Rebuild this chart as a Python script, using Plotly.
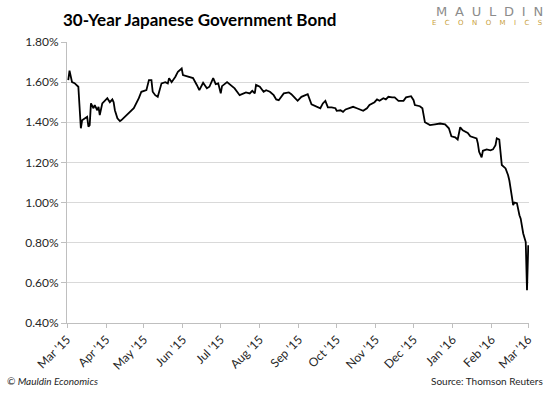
import plotly.graph_objects as go

dates = [
    "2015-03-02", "2015-03-03", "2015-03-05", "2015-03-07", "2015-03-10", "2015-03-12",
    "2015-03-13", "2015-03-15", "2015-03-17", "2015-03-18", "2015-03-19", "2015-03-20",
    "2015-03-22", "2015-03-23", "2015-03-25", "2015-03-26", "2015-03-27", "2015-03-29",
    "2015-03-31", "2015-04-02", "2015-04-04", "2015-04-06", "2015-04-07", "2015-04-08",
    "2015-04-10", "2015-04-12", "2015-04-13", "2015-04-16", "2015-04-19", "2015-04-23",
    "2015-04-27", "2015-04-29", "2015-05-03", "2015-05-05", "2015-05-07", "2015-05-08",
    "2015-05-10", "2015-05-12", "2015-05-15", "2015-05-18", "2015-05-20", "2015-05-21",
    "2015-05-23", "2015-05-26", "2015-05-28", "2015-05-31", "2015-06-01", "2015-06-04",
    "2015-06-07", "2015-06-09", "2015-06-12", "2015-06-14", "2015-06-17", "2015-06-20",
    "2015-06-22", "2015-06-25", "2015-06-27", "2015-06-29", "2015-07-01", "2015-07-02",
    "2015-07-06", "2015-07-10", "2015-07-12", "2015-07-16", "2015-07-19", "2015-07-21",
    "2015-07-24", "2015-07-26", "2015-07-28", "2015-07-29", "2015-08-01", "2015-08-04",
    "2015-08-06", "2015-08-09", "2015-08-12", "2015-08-14", "2015-08-16", "2015-08-20",
    "2015-08-24", "2015-08-26", "2015-08-29", "2015-08-31", "2015-09-03", "2015-09-07",
    "2015-09-08", "2015-09-11", "2015-09-15", "2015-09-18", "2015-09-20", "2015-09-22",
    "2015-09-24", "2015-09-27", "2015-09-30", "2015-10-01", "2015-10-04", "2015-10-06",
    "2015-10-08", "2015-10-11", "2015-10-14", "2015-10-17", "2015-10-19", "2015-10-22",
    "2015-10-25", "2015-10-27", "2015-10-31", "2015-11-02", "2015-11-04", "2015-11-07",
    "2015-11-09", "2015-11-11", "2015-11-14", "2015-11-16", "2015-11-19", "2015-11-23",
    "2015-11-25", "2015-11-29", "2015-12-01", "2015-12-02", "2015-12-06", "2015-12-08",
    "2015-12-10", "2015-12-14", "2015-12-18", "2015-12-22", "2015-12-26", "2015-12-29",
    "2015-12-31", "2016-01-03", "2016-01-05", "2016-01-07", "2016-01-09", "2016-01-11",
    "2016-01-13", "2016-01-15", "2016-01-17", "2016-01-20", "2016-01-21", "2016-01-22",
    "2016-01-24", "2016-01-25", "2016-01-28", "2016-01-31", "2016-02-02", "2016-02-04",
    "2016-02-05", "2016-02-07", "2016-02-09", "2016-02-12", "2016-02-14", "2016-02-15",
    "2016-02-17", "2016-02-18", "2016-02-19", "2016-02-21", "2016-02-23", "2016-02-24",
    "2016-02-26", "2016-02-27", "2016-02-28", "2016-02-29", "2016-03-01",
]

yields = [
    1.61, 1.657, 1.60, 1.595, 1.577, 1.37,
    1.41, 1.42, 1.427, 1.378, 1.386, 1.494,
    1.47, 1.486, 1.46, 1.477, 1.436, 1.494,
    1.51, 1.52, 1.50, 1.514, 1.50, 1.46,
    1.42, 1.406, 1.41, 1.427, 1.444, 1.47,
    1.52, 1.552, 1.56, 1.61, 1.61, 1.552,
    1.535, 1.527, 1.594, 1.60, 1.594, 1.62,
    1.60, 1.627, 1.652, 1.668, 1.635, 1.63,
    1.624, 1.62, 1.586, 1.56, 1.597, 1.569,
    1.577, 1.62, 1.59, 1.594, 1.544, 1.58,
    1.60, 1.58, 1.569, 1.535, 1.544, 1.549,
    1.544, 1.557, 1.544, 1.586, 1.577, 1.552,
    1.56, 1.552, 1.535, 1.514, 1.51, 1.544,
    1.549, 1.54, 1.52, 1.507, 1.527, 1.535,
    1.54, 1.49, 1.48, 1.47, 1.494, 1.507,
    1.474, 1.474, 1.47, 1.457, 1.46, 1.452,
    1.464, 1.47, 1.477, 1.47, 1.464, 1.457,
    1.47, 1.486, 1.50, 1.514, 1.507, 1.52,
    1.514, 1.527, 1.524, 1.524, 1.507, 1.507,
    1.524, 1.53, 1.51, 1.486, 1.48, 1.47,
    1.40, 1.386, 1.39, 1.394, 1.39, 1.37,
    1.33, 1.325, 1.314, 1.375, 1.36, 1.352,
    1.347, 1.33, 1.327, 1.32, 1.295, 1.253,
    1.225, 1.258, 1.265, 1.26, 1.265, 1.286,
    1.32, 1.314, 1.187, 1.17, 1.136, 1.11,
    1.03, 0.987, 1.00, 0.997, 0.937, 0.92,
    0.846, 0.82, 0.803, 0.563, 0.787,
]

y_ticks = [0.4, 0.6, 0.8, 1.0, 1.2, 1.4, 1.6, 1.8]
y_tick_labels = ["0.40%", "0.60%", "0.80%", "1.00%", "1.20%", "1.40%", "1.60%", "1.80%"]

title_text = "30-Year Japanese Government Bond"
credit_text = "© Mauldin Economics"
source_text = "Source: Thomson Reuters"
logo_top = "MAULDIN"
logo_bottom = "ECONOMICS"

FONT = "Lato, 'Open Sans', sans-serif"

fig = go.Figure()
fig.add_trace(go.Scatter(
    x=dates, y=yields, mode="lines",
    line=dict(color="#000000", width=1.8),
    showlegend=False, hoverinfo="x+y",
))

fig.update_layout(
    width=550, height=397,
    margin=dict(l=67, r=21, t=42, b=74),
    paper_bgcolor="white", plot_bgcolor="white",
    font=dict(family=FONT, size=12, color="#262626"),
    xaxis=dict(
        type="date",
        range=["2015-03-01", "2016-03-01 14:00"],
        tick0="2015-03-01", dtick="M1",
        tickformat="%b '%y", tickangle=-45,
        showgrid=False, showline=True, linecolor="#bfbfbf", linewidth=1,
        ticks="outside", ticklen=4, tickcolor="#bfbfbf",
        tickfont=dict(size=12, color="#262626"),
        zeroline=False,
    ),
    yaxis=dict(
        range=[0.4, 1.8],
        tickvals=y_ticks, ticktext=y_tick_labels,
        showgrid=True, gridcolor="#d9d9d9", gridwidth=1,
        showline=True, linecolor="#bfbfbf", linewidth=1,
        ticks="outside", ticklen=5, tickcolor="#bfbfbf",
        tickfont=dict(size=12, color="#262626"),
        zeroline=False,
    ),
    annotations=[
        dict(text=title_text, xref="paper", yref="paper", x=-0.012, y=1.0,
             xanchor="left", yanchor="bottom", yshift=10, showarrow=False,
             font=dict(family=FONT, size=17, color="#000000", weight="bold")),
        dict(text="\u2002\u200a".join(logo_top), xref="paper", yref="paper", x=1.035, y=1.0,
             xanchor="right", yanchor="middle", yshift=31, showarrow=False,
             font=dict(family="'DejaVu Sans', sans-serif", size=13, color="#8c8c8c")),
        dict(text="\u2003\u2009".join(logo_bottom), xref="paper", yref="paper", x=1.035, y=1.0,
             xanchor="right", yanchor="middle", yshift=19, showarrow=False,
             font=dict(family="'DejaVu Sans', sans-serif", size=7, color="#c9a13b")),
        dict(text="<i>" + credit_text + "</i>", xref="paper", yref="paper", x=-0.135, y=0.0,
             xanchor="left", yanchor="middle", yshift=-58, showarrow=False,
             font=dict(family=FONT, size=10, color="#262626")),
        dict(text=source_text, xref="paper", yref="paper", x=1.035, y=0.0,
             xanchor="right", yanchor="middle", yshift=-58, showarrow=False,
             font=dict(family=FONT, size=10, color="#262626")),
    ],
)

fig.write_html(
    "out.html",
    config={"displayModeBar": False},
    post_script="document.body.style.margin='0';document.body.style.overflow='hidden';",
)
